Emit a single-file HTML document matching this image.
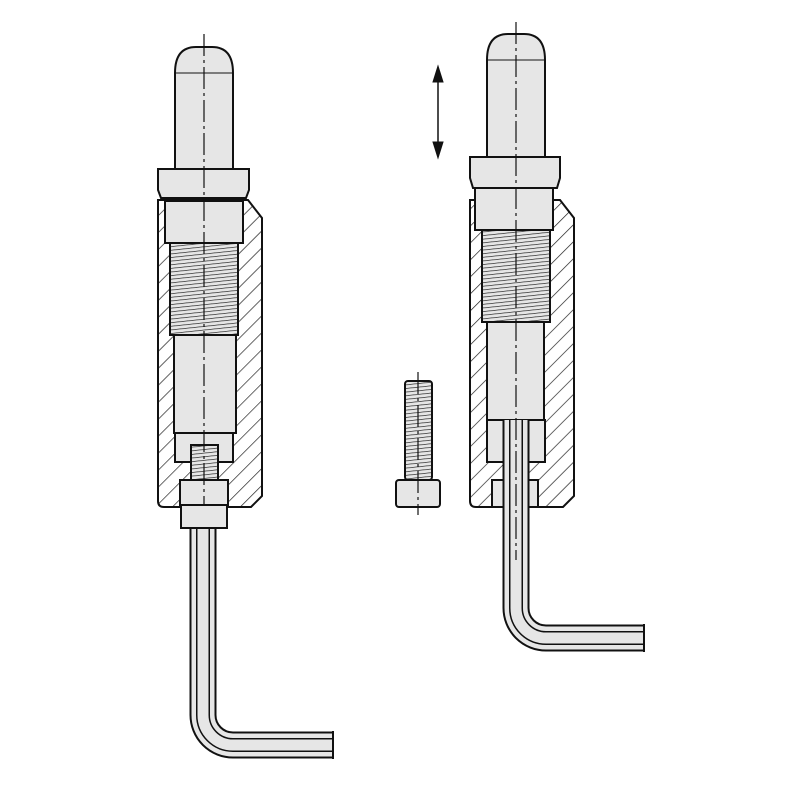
<!DOCTYPE html>
<html><head><meta charset="utf-8"><style>html,body{margin:0;padding:0;background:#fff}svg{display:block}</style></head>
<body>
<svg width="800" height="800" viewBox="0 0 800 800" xmlns="http://www.w3.org/2000/svg">
<defs>
<pattern id="h" patternUnits="userSpaceOnUse" width="12" height="12" patternTransform="rotate(-45)">
<rect width="12" height="12" fill="#fff"/><line x1="0" y1="0" x2="12" y2="0" stroke="#222" stroke-width="1.4"/></pattern>
<pattern id="t" patternUnits="userSpaceOnUse" width="40" height="3.6" patternTransform="rotate(-6)">
<rect width="40" height="3.6" fill="#e6e6e6"/><line x1="0" y1="0" x2="40" y2="0" stroke="#222" stroke-width="1.3"/></pattern>
</defs>
<g stroke="#111" stroke-width="2" fill="#e6e6e6">
<!-- LEFT ASSEMBLY -->
<path d="M158 200 H248 L262 218 V496 L251 507 H164 Q158 507 158 501 Z" fill="url(#h)"/>
<rect x="165" y="201" width="78" height="42"/>
<rect x="170" y="243" width="68" height="92" fill="url(#t)"/>
<rect x="174" y="335" width="62" height="98"/>
<rect x="175" y="433" width="58" height="29"/>
<rect x="180" y="480" width="48" height="25"/>
<rect x="191" y="445" width="27" height="35" fill="url(#t)"/>
<rect x="181" y="505" width="46" height="23"/>
<path d="M175 169 V73 Q175 47 196 47 H212 Q233 47 233 73 V169 Z"/>
<line x1="175" y1="73" x2="233" y2="73" stroke-width="1"/>
<path d="M158 169 H249 V190 L246 198 H161 L158 190 Z"/>
<!-- left wrench -->
<path d="M203 528 V715 A30 30 0 0 0 233 745 H333" fill="none" stroke="#111" stroke-width="27"/>
<path d="M203 529 V715 A30 30 0 0 0 233 745 H332" fill="none" stroke="#e6e6e6" stroke-width="23"/>
<path d="M203 529 V715 A30 30 0 0 0 233 745 H332" fill="none" stroke="#111" stroke-width="14"/>
<path d="M203 529 V715 A30 30 0 0 0 233 745 H332" fill="none" stroke="#e6e6e6" stroke-width="11"/>
<line x1="333" y1="731" x2="333" y2="759"/>

<!-- RIGHT ASSEMBLY -->
<path d="M470 200 H560 L574 218 V496 L563 507 H476 Q470 507 470 501 Z" fill="url(#h)"/>
<rect x="475" y="188" width="78" height="42"/>
<rect x="482" y="230" width="68" height="92" fill="url(#t)"/>
<rect x="487" y="322" width="57" height="98"/>
<rect x="487" y="420" width="58" height="42"/>
<rect x="492" y="480" width="46" height="27"/>
<path d="M487 157 V60 Q487 34 508 34 H524 Q545 34 545 60 V157 Z"/>
<line x1="487" y1="60" x2="545" y2="60" stroke-width="1"/>
<path d="M470 157 H560 V178 L557 188 H473 L470 178 Z"/>
<!-- right wrench -->
<path d="M516 420 V608 A30 30 0 0 0 546 638 H644" fill="none" stroke="#111" stroke-width="27"/>
<path d="M516 420 V608 A30 30 0 0 0 546 638 H643" fill="none" stroke="#e6e6e6" stroke-width="23"/>
<path d="M516 420 V608 A30 30 0 0 0 546 638 H643" fill="none" stroke="#111" stroke-width="14"/>
<path d="M516 420 V608 A30 30 0 0 0 546 638 H643" fill="none" stroke="#e6e6e6" stroke-width="11"/>
<line x1="644" y1="624" x2="644" y2="652"/>

<!-- screw -->
<rect x="405" y="381" width="27" height="99" rx="3" fill="url(#t)"/>
<rect x="396" y="480" width="44" height="27" rx="3"/>
</g>
<!-- centerlines -->
<g stroke="#111" stroke-width="1.2" stroke-dasharray="22 4 3 4" fill="none">
<line x1="204" y1="34" x2="204" y2="505"/>
<line x1="516" y1="22" x2="516" y2="560"/>
<line x1="418" y1="372" x2="418" y2="515"/>
</g>
<!-- arrow -->
<g fill="#111" stroke="#111">
<line x1="438" y1="76" x2="438" y2="148" stroke-width="1.5"/>
<path d="M438 66 L433 82 L443 82 Z"/>
<path d="M438 158 L433 142 L443 142 Z"/>
</g>
</svg>
</body></html>
